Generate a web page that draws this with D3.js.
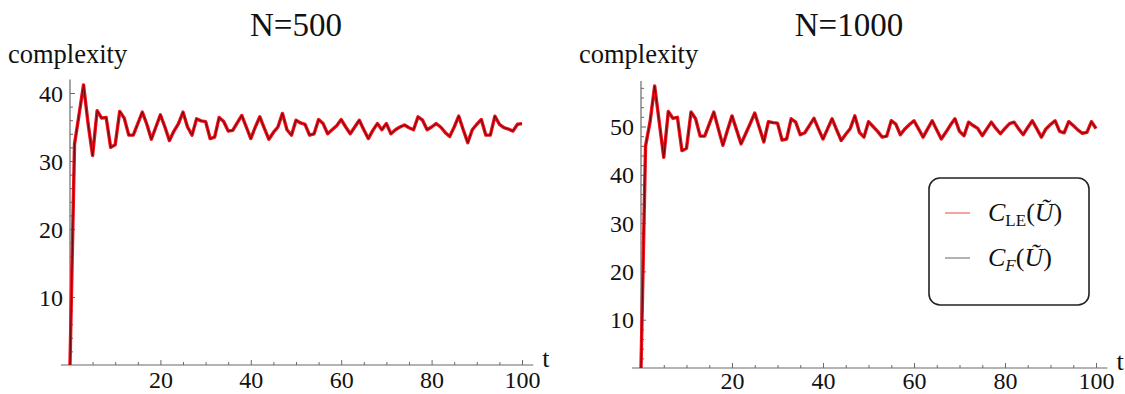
<!DOCTYPE html>
<html>
<head>
<meta charset="utf-8">
<script src="https://cdn.jsdelivr.net/npm/d3@7"></script>
<style>
  body { margin: 0; background: #fff; }
  svg { display: block; }
  svg text { font-family: "Liberation Serif", serif !important; fill: #111; }
</style>
</head>
<body>
<svg id="chart" width="1125" height="394"></svg>
<script>
// time steps 0..100
var steps = d3.range(0, 101);

var complexity500 = [
  0, 32.5, 36.8, 41.2, 35.5, 30.8, 37.4, 36.3, 36.4, 32.0,
  32.4, 37.3, 36.3, 33.8, 33.8, 35.5, 37.2, 35.4, 33.2, 35.0,
  36.8, 35.0, 33.0, 34.4, 35.5, 37.2, 35.0, 33.8, 36.2, 35.9,
  35.8, 33.3, 33.5, 36.4, 35.8, 34.4, 34.5, 35.6, 36.7, 35.0,
  33.3, 35.0, 36.5, 34.8, 33.2, 34.2, 35.0, 37.0, 34.6, 33.8,
  36.0, 35.6, 35.4, 33.8, 34.0, 36.1, 35.5, 34.0, 34.6, 35.2,
  36.1, 35.0, 34.0, 35.0, 36.0, 34.6, 33.3, 34.5, 35.5, 34.6,
  35.5, 34.0, 34.6, 35.0, 35.3, 34.9, 34.6, 36.5, 36.0, 34.6,
  35.0, 35.5, 35.0, 34.2, 33.6, 35.0, 36.6, 34.6, 32.7, 34.6,
  35.4, 36.1, 33.8, 33.8, 36.6, 35.4, 34.9, 34.7, 34.4, 35.4,
  35.5
];

var complexity1000 = [
  0, 46.0, 51.0, 58.4, 51.0, 43.6, 53.1, 51.7, 51.9, 45.0,
  45.5, 53.0, 51.6, 48.0, 48.0, 50.5, 53.0, 49.5, 46.1, 49.2,
  52.2, 49.3, 46.4, 48.5, 50.6, 52.8, 49.8, 46.8, 51.0, 50.8,
  50.7, 47.2, 47.4, 51.6, 50.9, 48.3, 48.7, 50.2, 51.7, 49.5,
  47.4, 49.5, 51.6, 49.3, 47.1, 48.4, 49.6, 52.2, 48.8, 47.8,
  51.0, 50.0, 49.0, 47.8, 48.0, 51.2, 50.5, 48.3, 49.5, 50.4,
  51.2, 49.5, 47.8, 49.5, 51.2, 49.3, 47.4, 48.8, 50.3, 51.6,
  49.0, 48.1, 50.9, 50.2, 49.6, 48.1, 49.5, 50.9, 49.6, 48.5,
  49.6, 50.6, 50.9, 49.5, 48.3, 49.8, 51.2, 49.5, 47.8, 49.5,
  50.4, 51.2, 49.0, 48.7, 51.0, 50.2, 49.3, 48.6, 48.8, 51.0,
  49.6
];

var xMajor = [20, 40, 60, 80, 100];
var xMinor = [5, 10, 15, 25, 30, 35, 45, 50, 55, 65, 70, 75, 85, 90, 95];
var yMajor500 = [10, 20, 30, 40];
var yMajor1000 = [10, 20, 30, 40, 50];
var titles = ["N=500", "N=1000"];

var svg = d3.select("#chart");
var axisColor = "#6a6a6a";

function drawPanel(opt) {
  var x = d3.scaleLinear().domain([0, 100]).range([opt.x0, opt.x1]);
  var y = d3.scaleLinear().domain([0, opt.yRef]).range([opt.y0, opt.yRefPx]);
  var g = svg.append("g");

  // title and y label
  g.append("text").attr("x", opt.titleX).attr("y", 36)
    .attr("text-anchor", "middle").style("font-size", "33px").text(opt.title);
  g.append("text").attr("x", opt.labelX).attr("y", 63)
    .style("font-size", "26.5px").text("complexity");

  // axis lines
  g.append("line").attr("x1", x(-2)).attr("x2", x(102.5))
    .attr("y1", y(0)).attr("y2", y(0)).attr("stroke", axisColor).attr("stroke-width", 1.2);
  g.append("line").attr("x1", x(0)).attr("x2", x(0))
    .attr("y1", y(0)).attr("y2", y(opt.yTop)).attr("stroke", axisColor).attr("stroke-width", 1.2);

  // x ticks
  var xa = g.append("g").attr("transform", "translate(0," + y(0) + ")")
    .call(d3.axisBottom(x).tickValues(xMajor).tickSize(-5).tickPadding(opt.xPad).tickFormat(d3.format("d")));
  var xm = g.append("g").attr("transform", "translate(0," + y(0) + ")")
    .call(d3.axisBottom(x).tickValues(xMinor).tickSize(-3).tickFormat(""));

  // y ticks
  var minorY = d3.range(2, opt.yTop, 2).filter(function(v) { return v % 10 !== 0; });
  var ya = g.append("g").attr("transform", "translate(" + x(0) + ",0)")
    .call(d3.axisLeft(y).tickValues(opt.yMajor).tickSize(-5).tickPadding(7).tickFormat(d3.format("d")));
  var ym = g.append("g").attr("transform", "translate(" + x(0) + ",0)")
    .call(d3.axisLeft(y).tickValues(minorY).tickSize(-3).tickFormat(""));

  [xa, xm, ya, ym].forEach(function(a) {
    a.attr("font-family", null).attr("font-size", null);
    a.select(".domain").remove();
    a.selectAll(".tick line").attr("stroke", axisColor).attr("stroke-width", 1);
    a.selectAll(".tick text").style("font-size", "24px").attr("fill", "#111");
  });
  ya.selectAll(".tick text").attr("dy", "0.34em");

  g.append("text").attr("x", x(102.5) + 9).attr("y", y(0) + 2)
    .style("font-size", "26px").text("t");

  // series: red C_LE underneath, dark C_F on top
  var line = d3.line().x(function(d, i) { return x(steps[i]); }).y(function(d) { return y(d); });
  g.append("path").datum(opt.values).attr("d", line)
    .attr("fill", "none").attr("stroke", "#f0101c").attr("stroke-width", 3.4)
    .attr("stroke-linejoin", "round");
  g.append("path").datum(opt.values).attr("d", line)
    .attr("fill", "none").attr("stroke", "#300000").attr("stroke-width", 1)
    .attr("stroke-opacity", 0.7).attr("stroke-linejoin", "round");
}

drawPanel({ title: titles[0], titleX: 296, labelX: 8, values: complexity500, xPad: 6,
  x0: 70, x1: 522, y0: 365, yRef: 40, yRefPx: 93, yTop: 42, yMajor: yMajor500 });
drawPanel({ title: titles[1], titleX: 849, labelX: 579, values: complexity1000, xPad: 4,
  x0: 641, x1: 1096, y0: 368, yRef: 50, yRefPx: 126.5, yTop: 59.4, yMajor: yMajor1000 });

// legend
var lg = svg.append("g");
lg.append("rect").attr("x", 929).attr("y", 178).attr("width", 160).attr("height", 127)
  .attr("rx", 11).attr("fill", "#fff").attr("stroke", "#222").attr("stroke-width", 1.6);
var entries = [
  { color: "#f07070", y: 213, sub: "LE", subItalic: false },
  { color: "#888888", y: 258, sub: "F", subItalic: true }
];
entries.forEach(function(e) {
  lg.append("line").attr("x1", 945).attr("x2", 970).attr("y1", e.y).attr("y2", e.y)
    .attr("stroke", e.color).attr("stroke-width", 1.3);
  var t = lg.append("text").attr("x", 988).attr("y", e.y + 8).style("font-size", "26px");
  t.append("tspan").style("font-style", "italic").text("C");
  t.append("tspan").attr("dy", 5).style("font-size", "17px")
    .style("font-style", e.subItalic ? "italic" : "normal").text(e.sub);
  t.append("tspan").attr("dy", -5).text("(");
  t.append("tspan").style("font-style", "italic").text("\u0168");
  t.append("tspan").text(")");
});
</script>
</body>
</html>
